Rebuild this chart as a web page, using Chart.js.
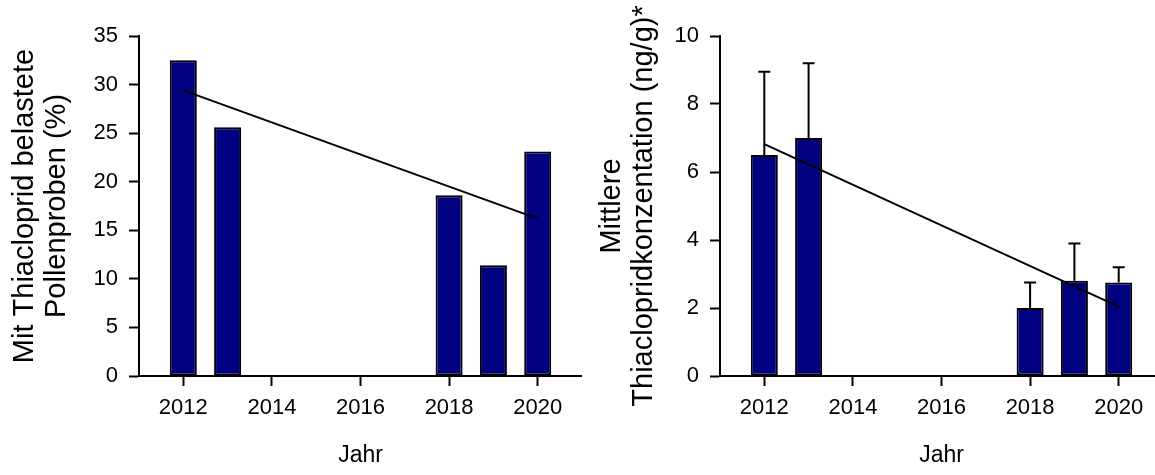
<!DOCTYPE html>
<html>
<head>
<meta charset="utf-8">
<script src="https://cdn.jsdelivr.net/npm/chart.js@4.4.1/dist/chart.umd.min.js"></script>
<style>
  html, body { margin: 0; padding: 0; background: #fff; overflow: hidden; width: 1155px; height: 475px; }
  canvas { position: absolute; top: 0; }
  #share { left: 0; }
  #conc { left: 580px; }
</style>
</head>
<body>
<canvas id="share" width="582" height="475"></canvas>
<canvas id="conc" width="583" height="475"></canvas>
<script>
// Sampling years with results
const years = [2012, 2013, 2018, 2019, 2020];
// Share of pollen samples contaminated with thiacloprid (%)
const sharePercent = [32.5, 25.6, 18.6, 11.4, 23.1];
// Mean thiacloprid concentration (ng/g) and top of its error bar
const meanConc = [6.5, 7.0, 2.0, 2.8, 2.75];
const concUpper = [8.95, 9.2, 2.75, 3.9, 3.2];
// Linear trend end points
const trendYears = [2012, 2020];
const shareTrend = [29.4, 16.2];
const concTrend = [6.82, 2.04];
// Axis ticks
const yearTicks = [2012, 2014, 2016, 2018, 2020];
const shareTicks = [0, 5, 10, 15, 20, 25, 30, 35];
const concTicks = [0, 2, 4, 6, 8, 10];

const FONT = "'Liberation Sans', Arial, Helvetica, sans-serif";
Chart.defaults.font.family = FONT;
Chart.defaults.color = '#000';

const toPoints = (xs, ys) => xs.map((x, i) => ({ x, y: ys[i] }));

// Upper error whiskers for bar datasets carrying an `errorUpper` list
const upperErrorBars = {
  id: 'upperErrorBars',
  afterDatasetDraw(chart, args) {
    const ds = chart.data.datasets[args.index];
    if (!ds.errorUpper) return;
    const { ctx } = chart;
    const xs = chart.scales.x, ys = chart.scales.y;
    ctx.save();
    ctx.strokeStyle = '#000';
    ctx.lineWidth = 2;
    ds.data.forEach((p, i) => {
      const px = xs.getPixelForValue(p.x);
      const top = ys.getPixelForValue(p.y);
      const hi = ys.getPixelForValue(ds.errorUpper[i]);
      ctx.beginPath();
      ctx.moveTo(px, top);
      ctx.lineTo(px, hi);
      ctx.moveTo(px - 6, hi);
      ctx.lineTo(px + 6, hi);
      ctx.stroke();
    });
    ctx.restore();
  }
};

const axisLine = { display: true, color: '#000', width: 2 };
const tickMarks = {
  display: true, drawOnChartArea: false, drawTicks: true, offset: false,
  tickLength: 10, tickColor: '#000', tickWidth: 2, color: '#000'
};

function makeChart(id, opts) {
  return new Chart(document.getElementById(id), {
    type: 'bar',
    data: {
      datasets: [
        {
          type: 'line',
          data: toPoints(trendYears, opts.trend),
          borderColor: '#000',
          borderWidth: 2,
          pointRadius: 0,
          fill: false,
          tension: 0,
          order: 0
        },
        {
          type: 'bar',
          data: toPoints(years, opts.values),
          errorUpper: opts.upper,
          backgroundColor: '#000080',
          borderColor: '#000',
          borderWidth: 2,
          borderSkipped: false,
          barPercentage: 0.61,
          categoryPercentage: 1,
          order: 1
        }
      ]
    },
    options: {
      responsive: false,
      animation: false,
      devicePixelRatio: 1,
      layout: { padding: { top: 36, left: 0, right: 0, bottom: 0 } },
      plugins: { legend: { display: false }, tooltip: { enabled: false } },
      scales: {
        x: {
          type: 'linear',
          min: 2011,
          max: 2021,
          offset: false,
          afterBuildTicks: s => { s.ticks = yearTicks.map(v => ({ value: v })); },
          afterFit: s => { s.height = 99; },
          ticks: {
            color: '#000', font: { size: 22 }, padding: 9,
            maxRotation: 0, autoSkip: false, callback: v => String(v)
          },
          grid: tickMarks,
          border: axisLine,
          title: {
            display: true, text: 'Jahr', color: '#000',
            font: { size: 23 }, padding: { top: 0, bottom: 6 }
          }
        },
        y: {
          min: 0,
          max: opts.yMax,
          afterBuildTicks: s => { s.ticks = opts.yTicks.map(v => ({ value: v })); },
          afterFit: s => { s.width = opts.axisWidth; },
          ticks: { color: '#000', font: { size: 22 }, padding: 11, callback: v => String(v) },
          grid: tickMarks,
          border: axisLine,
          title: {
            display: true, text: opts.title, color: '#000',
            font: { size: 29, lineHeight: 1.1 }, padding: { top: opts.titlePad, bottom: 0 }
          }
        }
      }
    },
    plugins: [upperErrorBars]
  });
}

makeChart('share', {
  values: sharePercent,
  trend: shareTrend,
  upper: null,
  yMax: 35,
  yTicks: shareTicks,
  axisWidth: 139,
  titlePad: 9,
  title: ['Mit Thiacloprid belastete', 'Pollenproben (%)']
});

makeChart('conc', {
  values: meanConc,
  trend: concTrend,
  upper: concUpper,
  yMax: 10,
  yTicks: concTicks,
  axisWidth: 140,
  titlePad: 16,
  title: ['Mittlere', 'Thiaclopridkonzentation (ng/g)*']
});
</script>
</body>
</html>
